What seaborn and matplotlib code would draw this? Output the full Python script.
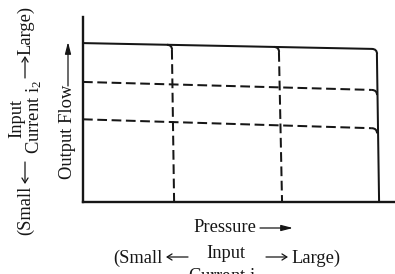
import numpy as np
import pandas as pd
import matplotlib
matplotlib.use("Agg")
import matplotlib.pyplot as plt
from matplotlib.path import Path
from matplotlib.patches import PathPatch
import seaborn as sns

# ---- data (arbitrary units) ----
i2_labels = ["small", "medium", "large"]
flow_at_zero_pressure = [4.47, 6.49, 8.59]   # output flow at p = 0 for each i2
flow_at_limit = [3.98, 6.05, 8.27]           # output flow at the largest pressure limit
i1_labels = ["small", "medium", "large"]
pressure_limit_top = [2.85, 6.28, 9.42]      # pressure where each i1 limit begins (top)
pressure_limit_bottom = [2.92, 6.38, 9.49]   # pressure of each i1 limit at zero flow

sns.set_style("white")
plt.rcParams["font.family"] = ["Liberation Serif", "DejaVu Serif"]
plt.rcParams["mathtext.fontset"] = "custom"
plt.rcParams["mathtext.rm"] = "Liberation Serif"
plt.rcParams["mathtext.it"] = "Liberation Serif:italic"
plt.rcParams["lines.scale_dashes"] = False

W, H = 395, 274
INK = "#161616"
fig = plt.figure(figsize=(W / 100, H / 100), dpi=100)
ax = fig.add_axes([83 / W, (H - 202) / H, (W - 83) / W, (202 - 17) / H])
ax.set_xlim(0, 10)
ax.set_ylim(0, 10)

LW = 1.45
rx, ry = 0.16, 0.27   # corner rounding (styling)

def line_y(k, x):
    f0, f1 = flow_at_zero_pressure[k], flow_at_limit[k]
    return f0 + (f1 - f0) * x / pressure_limit_top[-1]

rows = []
top = len(i2_labels) - 1
xv = pressure_limit_top[-1]
for k in range(len(i2_labels)):
    kind = "solid" if k == top else "dashed"
    xe = xv - rx
    rows.append(dict(seg=f"h{k}", kind=kind, x=0.0, y=flow_at_zero_pressure[k]))
    rows.append(dict(seg=f"h{k}", kind=kind, x=xe, y=line_y(k, xe)))
for j in range(len(i1_labels)):
    kind = "solid" if j == len(i1_labels) - 1 else "dashed"
    xt, xb = pressure_limit_top[j], pressure_limit_bottom[j]
    yt = line_y(top, xt) - ry
    rows.append(dict(seg=f"v{j}", kind=kind, x=xt, y=yt))
    rows.append(dict(seg=f"v{j}", kind=kind, x=xb, y=0.0))
df = pd.DataFrame(rows)

sns.lineplot(data=df, x="x", y="y", units="seg", estimator=None, sort=False,
             style="kind", dashes={"solid": "", "dashed": (7, 3.3)},
             color=INK, lw=LW, legend=False, ax=ax)

def corner(x0, y0, xc, yc, x1, y1):
    p = Path([(x0, y0), (xc, yc), (x1, y1)], [Path.MOVETO, Path.CURVE3, Path.CURVE3])
    ax.add_patch(PathPatch(p, fill=False, lw=LW, ec=INK, capstyle="butt"))

for k in range(len(i2_labels)):
    xe = xv - rx
    corner(xe, line_y(k, xe), xv, line_y(k, xv), xv + 0.005, line_y(k, xv) - ry)
for j in range(len(i1_labels) - 1):
    xt = pressure_limit_top[j]
    corner(xt - rx, line_y(top, xt - rx), xt, line_y(top, xt), xt + 0.005, line_y(top, xt) - ry)

for s in ["top", "right"]:
    ax.spines[s].set_visible(False)
for s in ["left", "bottom"]:
    ax.spines[s].set_linewidth(1.7)
    ax.spines[s].set_color(INK)
ax.set_xticks([])
ax.set_yticks([])
ax.set_xlabel("")
ax.set_ylabel("")

FS = 13.3
def fx(x):
    return x / W
def fy(y):
    return 1 - y / H
def arrow(x0, y0, x1, y1, filled=True):
    style = "-|>,head_length=0.7,head_width=0.18" if filled else "->,head_length=0.35,head_width=0.22"
    ax.annotate("", xy=(fx(x1), fy(y1)), xytext=(fx(x0), fy(y0)),
                xycoords="figure fraction", textcoords="figure fraction",
                arrowprops=dict(arrowstyle=style, lw=0.9, color=INK,
                                shrinkA=0, shrinkB=0))

# x-axis labels
fig.text(fx(256), fy(232), "Pressure", ha="right", va="baseline", fontsize=FS, color=INK)
arrow(260, 228, 293, 228)
fig.text(fx(163), fy(263), "(Small", ha="right", va="baseline", fontsize=FS, color=INK)
arrow(188, 257, 166, 257, filled=False)
fig.text(fx(226), fy(258), "Input", ha="center", va="baseline", fontsize=FS, color=INK)
fig.text(fx(225), fy(281), "Current i$_1$", ha="center", va="baseline", fontsize=FS, color=INK)
arrow(266, 257, 288, 257, filled=False)
fig.text(fx(291), fy(263), "Large)", ha="left", va="baseline", fontsize=FS, color=INK)

# y-axis labels
fig.text(fx(67), fy(132), "Output Flow", ha="center", va="center", rotation=90, fontsize=FS, color=INK)
arrow(68, 86, 68, 42)
fig.text(fx(26), fy(210), "(Small", ha="center", va="center", rotation=90, fontsize=FS, color=INK)
arrow(25, 162, 25, 184, filled=False)
fig.text(fx(17), fy(118), "Input", ha="center", va="center", rotation=90, fontsize=FS, color=INK)
fig.text(fx(34), fy(117), "Current i$_2$", ha="center", va="center", rotation=90, fontsize=FS, color=INK)
arrow(25, 78, 25, 56, filled=False)
fig.text(fx(26), fy(30), "Large)", ha="center", va="center", rotation=90, fontsize=FS, color=INK)

fig.savefig("out.png", dpi=100)
